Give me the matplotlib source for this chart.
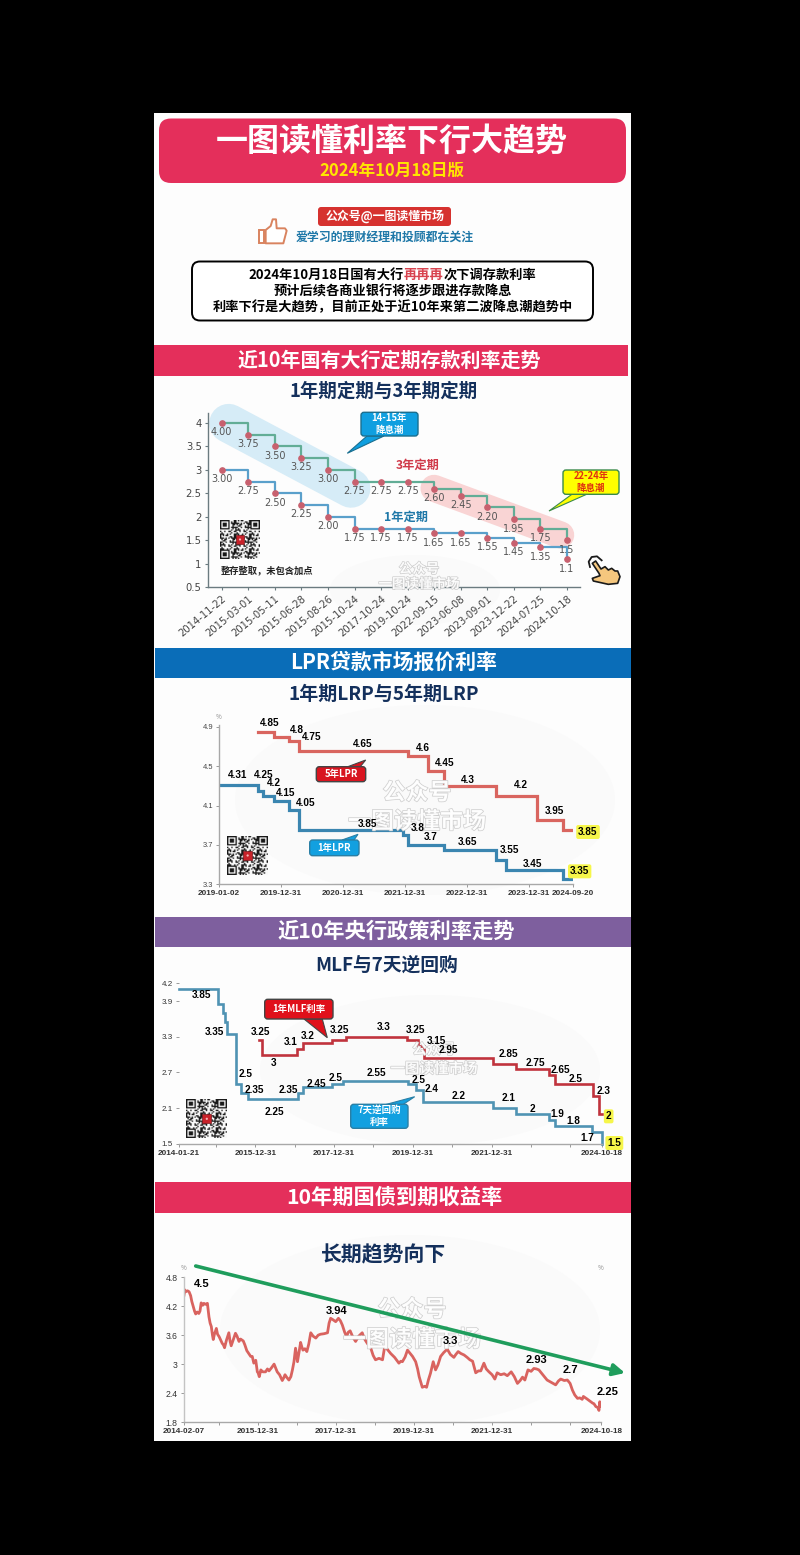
import numpy as np
import pandas as pd
import matplotlib
matplotlib.use("Agg")
import matplotlib.pyplot as plt
import matplotlib.dates as mdates
import matplotlib.patheffects as pe
from matplotlib.patches import FancyBboxPatch, Polygon, Ellipse, Rectangle
from matplotlib.lines import Line2D

CJK = ['Noto Sans CJK SC', 'DejaVu Sans']
NUM = ['Liberation Sans', 'DejaVu Sans']
plt.rcParams['font.family'] = CJK
plt.rcParams['axes.unicode_minus'] = False

# ---- deposit rates (categorical dates)
dep_dates = ['2014-11-22','2015-03-01','2015-05-11','2015-06-28','2015-08-26','2015-10-24','2017-10-24',
             '2019-10-24','2022-09-15','2023-06-08','2023-09-01','2023-12-22','2024-07-25','2024-10-18']
dep_3y = [4.00,3.75,3.50,3.25,3.00,2.75,2.75,2.75,2.60,2.45,2.20,1.95,1.75,1.50]
dep_1y = [3.00,2.75,2.50,2.25,2.00,1.75,1.75,1.75,1.65,1.65,1.55,1.45,1.35,1.10]
dep_3y_labels = ['4.00','3.75','3.50','3.25','3.00','2.75','2.75','2.75','2.60','2.45','2.20','1.95','1.75','1.5']
dep_1y_labels = ['3.00','2.75','2.50','2.25','2.00','1.75','1.75','1.75','1.65','1.65','1.55','1.45','1.35','1.1']
dep_yticks = [0.5,1,1.5,2,2.5,3,3.5,4]
dep_yticklabels = ['0.5','1','1.5','2','2.5','3','3.5','4']

# ---- LPR
lpr1_dates = ['2019-01-02','2019-08-20','2019-09-20','2019-11-20','2020-02-20','2020-04-20','2021-12-20',
              '2022-01-20','2022-08-22','2023-06-20','2023-08-21','2024-07-22','2024-09-20']
lpr1_vals = [4.31,4.25,4.20,4.15,4.05,3.85,3.80,3.70,3.65,3.55,3.45,3.35,3.35]
lpr5_dates = ['2019-08-20','2019-11-20','2020-02-20','2020-04-20','2022-01-20','2022-05-20','2022-08-22',
              '2023-06-20','2024-02-20','2024-07-22','2024-09-20']
lpr5_vals = [4.85,4.80,4.75,4.65,4.60,4.45,4.30,4.20,3.95,3.85,3.85]
lpr_xticks = ['2019-01-02','2019-12-31','2020-12-31','2021-12-31','2022-12-31','2023-12-31','2024-09-20']
lpr_yticks = [3.3,3.7,4.1,4.5,4.9]
lpr_texts = ['4.85','4.8','4.75','4.65','4.6','4.45','4.3','4.2','3.95',
             '4.31','4.25','4.2','4.15','4.05','3.85','3.8','3.7','3.65','3.55','3.45']
lpr_text_pos = [(348,218),(430,240),(472,261),(625,283),(808,293),(872,339),(942,391),(1100,406),(1200,483),
                (250,375),(330,376),(361,400),(395,430),(455,458),(640,521),(792,533),(830,560),(940,576),(1067,601),(1135,641)]

# ---- policy rates
rr_dates = ['2014-01-21','2015-01-15','2015-03-05','2015-03-25','2015-04-08','2015-07-01','2015-08-20','2015-10-23',
            '2017-02-03','2017-03-16','2017-12-14','2018-03-23','2019-11-18','2020-02-03','2020-03-30','2022-01-17',
            '2022-08-15','2023-06-13','2023-08-15','2024-07-22','2024-10-18','2024-10-18']
rr_vals = [4.10,3.85,3.70,3.55,3.35,2.50,2.35,2.25,2.35,2.45,2.50,2.55,2.50,2.40,2.20,2.10,2.00,1.90,1.80,1.70,1.50,1.50]
mlf_dates = ['2016-02-01','2016-03-01','2017-01-24','2017-03-16','2017-12-14','2018-04-17','2019-11-05','2020-02-17',
             '2020-04-15','2022-01-17','2022-08-15','2023-06-13','2023-08-15','2024-07-25','2024-09-25','2024-10-18']
mlf_vals = [3.25,3.00,3.10,3.20,3.25,3.30,3.25,3.15,2.95,2.85,2.75,2.65,2.50,2.30,2.00,2.00]
pol_xticks = ['2014-01-21','2015-12-31','2017-12-31','2019-12-31','2021-12-31','2024-10-18']
pol_minor = ['2014-12-31','2016-12-31','2018-12-31','2020-12-31','2022-12-31','2023-12-31']
pol_yticks = [1.5,2.1,2.7,3.3,3.9,4.2]
pol_texts = ['3.85','3.35','2.5','2.35','2.35','2.25','2.45','2.5','2.55','2.5','2.4','2.2','2.1','2','1.9','1.8','1.7',
             '3.25','3','3.1','3.2','3.25','3.3','3.25','3.15','2.95','2.85','2.75','2.65','2.5','2.3']
pol_text_pos = [(142,240),(180,350),(275,477),(300,525),(403,525),(360,590),(488,506),(544,490),(668,475),(795,495),
                (832,522),(915,542),(1065,548),(1134,581),(1210,596),(1258,619),(1301,670),
                (320,351),(360,445),(411,382),(460,362),(558,345),(690,335),(785,345),(848,379),(883,405),(1064,417),
                (1145,445),(1220,465),(1264,491),(1348,527)]

# ---- 10 year yield (decimal years)
yield_years = [
 2014.10,2014.12,2014.14,2014.19,2014.23,2014.27,2014.30,2014.34,2014.37,2014.40,
 2014.44,2014.48,2014.51,2014.54,2014.58,2014.61,2014.65,2014.70,2014.74,2014.77,
 2014.80,2014.83,2014.85,2014.88,2014.93,2014.96,2015.00,2015.04,2015.08,2015.11,
 2015.14,2015.19,2015.25,2015.28,2015.31,2015.36,2015.42,2015.46,2015.51,2015.55,
 2015.62,2015.66,2015.71,2015.76,2015.81,2015.85,2015.89,2015.94,2015.98,2016.00,
 2016.03,2016.07,2016.12,2016.19,2016.24,2016.28,2016.34,2016.41,2016.45,2016.49,
 2016.55,2016.62,2016.66,2016.69,2016.74,2016.79,2016.84,2016.88,2016.92,2016.96,
 2017.01,2017.05,2017.09,2017.12,2017.15,2017.20,2017.25,2017.30,2017.35,2017.41,
 2017.48,2017.54,2017.60,2017.69,2017.78,2017.82,2017.86,2017.92,2017.99,2018.06,
 2018.11,2018.16,2018.22,2018.27,2018.31,2018.36,2018.43,2018.50,2018.58,2018.67,
 2018.73,2018.80,2018.85,2018.89,2018.95,2019.01,2019.10,2019.19,2019.25,2019.32,
 2019.40,2019.50,2019.61,2019.66,2019.70,2019.77,2019.83,2019.90,2019.96,2020.04,
 2020.09,2020.13,2020.18,2020.21,2020.27,2020.32,2020.37,2020.42,2020.49,2020.55,
 2020.61,2020.68,2020.76,2020.85,2020.93,2021.02,2021.07,2021.13,2021.20,2021.28,
 2021.36,2021.43,2021.50,2021.58,2021.65,2021.71,2021.79,2021.85,2021.92,2022.00,
 2022.07,2022.13,2022.22,2022.31,2022.39,2022.49,2022.57,2022.65,2022.72,2022.78,
 2022.84,2022.92,2023.00,2023.07,2023.14,2023.20,2023.30,2023.41,2023.52,2023.63,
 2023.70,2023.76,2023.85,2023.93,2024.00,2024.06,2024.12,2024.19,2024.25,2024.31,
 2024.34,2024.43,2024.53,2024.58,2024.61,2024.66,2024.71,2024.74,2024.76,2024.78,2024.80]
yield_vals = [
 4.43,4.54,4.50,4.52,4.50,4.42,4.30,4.19,4.10,4.04,
 4.08,4.05,4.10,4.27,4.22,4.26,4.24,4.26,3.98,3.85,
 3.78,3.60,3.51,3.62,3.74,3.62,3.57,3.50,3.43,3.40,
 3.34,3.50,3.65,3.48,3.38,3.50,3.64,3.58,3.47,3.52,
 3.48,3.40,3.28,3.22,3.16,3.16,3.02,3.08,2.84,2.82,
 2.74,2.88,2.84,2.84,2.90,2.86,2.92,3.00,2.92,2.84,
 2.78,2.66,2.72,2.78,2.72,2.67,2.74,2.88,3.05,3.33,
 3.05,3.25,3.45,3.36,3.29,3.32,3.26,3.42,3.65,3.58,
 3.54,3.60,3.62,3.63,3.65,3.85,3.95,3.92,3.88,3.95,
 3.90,3.81,3.66,3.57,3.66,3.69,3.56,3.47,3.58,3.65,
 3.52,3.43,3.38,3.33,3.18,3.09,3.12,3.09,3.38,3.30,
 3.22,3.14,3.02,3.06,3.05,3.15,3.29,3.22,3.16,3.05,
 2.90,2.74,2.60,2.52,2.54,2.52,2.68,2.81,3.05,2.88,
 2.98,3.16,3.24,3.31,3.20,3.14,3.20,3.26,3.22,3.19,
 3.14,3.09,3.06,2.82,2.86,2.86,3.02,2.90,2.84,2.78,
 2.69,2.82,2.78,2.80,2.76,2.84,2.74,2.60,2.66,2.73,
 2.67,2.88,2.85,2.91,2.90,2.88,2.78,2.67,2.62,2.57,
 2.65,2.69,2.66,2.67,2.60,2.46,2.36,2.29,2.30,2.27,
 2.33,2.28,2.22,2.19,2.18,2.12,2.10,2.04,2.22,2.12,2.15]
yld_xticks = [2014.10,2016.0,2018.0,2020.0,2022.0,2024.80]
yld_xticklabels = ['2014-02-07','2015-12-31','2017-12-31','2019-12-31','2021-12-31','2024-10-18']
yld_minor = [2015.0,2017.0,2019.0,2021.0,2023.0,2024.0]
yld_yticks = [1.8,2.4,3.0,3.6,4.2,4.8]
yld_yticklabels = ['1.8','2.4','3','3.6','4.2','4.8']
yld_texts = ['4.5','3.94','3.3','2.93','2.7','2.25']
yld_text_pos = [(144,313),(549,392),(889,483),(1147,541),(1250,570),(1361,635)]

W, H = 800, 1555
RED, BLUE, PURPLE, NAVY = '#e42f5b', '#0a6db8', '#7e5f9e', '#14305c'
fig = plt.figure(figsize=(W/100, H/100), dpi=100, facecolor='black')

def overlay(z):
    a = fig.add_axes([0, 0, 1, 1], zorder=z)
    a.set_xlim(0, W); a.set_ylim(H, 0); a.axis('off'); a.patch.set_alpha(0)
    return a
bg = overlay(0)
top = overlay(5)

def chart_axes(l, t, r, b):
    a = fig.add_axes([l/W, 1-b/H, (r-l)/W, (b-t)/H], zorder=2)
    a.patch.set_alpha(0)
    for s in ['top', 'right']:
        a.spines[s].set_visible(False)
    return a

def T(x, y, s, size, color='black', weight='bold', family=CJK, ha='center', ax=top, **kw):
    return ax.text(x, y, s, fontsize=size, color=color, fontweight=weight, family=family,
                   ha=ha, va='center', **kw)

def rbox(ax, x0, y0, x1, y1, r, fc, ec='none', lw=0, z=1):
    p = FancyBboxPatch((x0, y0), x1-x0, y1-y0, boxstyle=f'round,pad=0,rounding_size={r}',
                       fc=fc, ec=ec, lw=lw, zorder=z)
    ax.add_patch(p)

def callout(x0, y0, x1, y1, tail, fc, ec, lines, tc, size):
    top.add_patch(Polygon(tail, closed=True, fc=fc, ec=ec, lw=0.8, zorder=3))
    rbox(top, x0, y0, x1, y1, 3, fc, ec, 1.0, 4)
    n = len(lines); h = (y1-y0)/n
    for i, s in enumerate(lines):
        t = T((x0+x1)/2, y0+h*(i+.5), s, size, tc, zorder=5)

def qr(x0, y0, x1, y1):
    n = 29
    m = np.zeros((n, n))
    for i in range(n):
        for j in range(n):
            m[i, j] = ((i*i*3 + j*j*5 + i*j*7 + i + 2*j) % 11) < 5
    for (a, b) in [(0, 0), (0, n-7), (n-7, 0)]:
        m[a:a+8 if a == 0 else a+7, b:b+8 if b == 0 else b+7] = 0
        m[a:a+7, b:b+7] = 1
        m[a+1:a+6, b+1:b+6] = 0
        m[a+2:a+5, b+2:b+5] = 1
    img = np.ones((n, n, 3))*(1-m[..., None])*0.98 + m[..., None]*0.1
    top.imshow(img, extent=(x0, x1, y1, y0), aspect='auto', interpolation='bilinear', zorder=3)
    w = (x1-x0)*0.22
    cx, cy = (x0+x1)/2, (y0+y1)/2
    top.add_patch(Rectangle((cx-w/2, cy-w/2), w, w, fc='#c8222a', ec='#7a1a1f', lw=0.5, zorder=4))
    top.add_patch(Ellipse((cx, cy), w*.25, w*.25, fc='#f5b5b5', ec='none', zorder=5))
    top.set_xlim(0, W); top.set_ylim(H, 0)

def watermark(cx, y1, y2, px):
    size = px*0.72
    for y, s in [(y1, '公众号'), (y2, '一图读懂市场')]:
        t = T(cx, y, s, size, 'white', zorder=2.5, ax=top, alpha=0.9)
        t.set_path_effects([pe.withStroke(linewidth=1.0, foreground='#c8c8c8')])

# ---------- panel
panel = Rectangle((154, 113), 477, 1328, fc='#fdfdfd', ec='none', zorder=0)
bg.add_patch(panel)
for (cx, cy, w, h) in [(425, 800, 380, 190), (430, 1070, 340, 150), (410, 1330, 380, 190), (415, 590, 170, 70)]:
    e = Ellipse((cx, cy), w, h, fc='#fafafa', ec='none', zorder=0.3)
    bg.add_patch(e)
    e.set_clip_path(panel)

# ---------- header
rbox(bg, 159, 118.5, 626, 183, 12, RED)
T(392, 142, '一图读懂利率下行大趋势', 23, 'white', ax=bg)
T(392, 170.5, '2024年10月18日版', 12, '#ffe600', ax=bg)
rbox(bg, 318, 207, 451, 226, 3, '#d6322f')
T(384.5, 216.5, '公众号@一图读懂市场', 8.6, 'white', ax=bg)
T(384.7, 237.5, '爱学习的理财经理和投顾都在关注', 8.6, '#1f78a8', ax=bg)
# thumb icon
thumb_fist = [(47,60),(62,48),(68,28),(78,28),(80,55),(105,55),(110,62),(100,100),(47,100)]
bg.add_patch(Polygon([(250+x/3, 210+y/3) for x, y in thumb_fist], closed=True, fc='white', ec='#d9835f', lw=1.4, joinstyle='round'))
bg.add_patch(Rectangle((250+27/3, 210+60/3), 15/3, 40/3, fc='white', ec='#d9835f', lw=1.4))

# notice box
rbox(bg, 192, 261.5, 593, 320.5, 8, 'white', 'black', 1.4)
fig.canvas.draw()
rend = fig.canvas.get_renderer()
segs = [('2024年10月18日国有大行', 'black'), ('再再再', '#d8434f'), ('次下调存款利率', 'black')]
texts = [T(0, 274.5, s, 9.5, c, ha='left', ax=bg) for s, c in segs]
widths = [t.get_window_extent(rend).width for t in texts]
x = 392.5 - sum(widths)/2
for t, w in zip(texts, widths):
    t.set_x(x); x += w
T(392.5, 291.5, '预计后续各商业银行将逐步跟进存款降息', 9.5, ax=bg)
T(392.5, 307.5, '利率下行是大趋势，目前正处于近10年来第二波降息潮趋势中', 9.5, ax=bg)

# ---------- bands
for (x0, x1, y0, y1, c, s, cx, fs) in [
    (154, 628, 345, 376, RED, '近10年国有大行定期存款利率走势', 389.7, 14.4),
    (155, 631, 648, 678, BLUE, 'LPR贷款市场报价利率', 393.3, 15),
    (155, 631, 917, 947, PURPLE, '近10年央行政策利率走势', 396.3, 15.3),
    (155, 631, 1182, 1213, RED, '10年期国债到期收益率', 394, 15.3)]:
    bg.add_patch(Rectangle((x0, y0), x1-x0, y1-y0, fc=c, ec='none', zorder=1))
    T(cx, (y0+y1)/2-0.3, s, fs, 'white', ax=bg, zorder=2)
for (cx, cy, s, fs) in [(384, 391, '1年期定期与3年期定期', 13.3), (384, 694, '1年期LRP与5年期LRP', 13.7),
                        (386.3, 965, 'MLF与7天逆回购', 13.5), (384, 1255, '长期趋势向下', 15)]:
    T(cx, cy, s, fs, NAVY, ax=bg)

# ---------- chart 1
bg.add_line(Line2D([228.7, 351], [423.3, 488.3], color='#d6ecf7', lw=28, solid_capstyle='round', zorder=1))
bg.add_line(Line2D([434, 560.7], [488.3, 535], color='#f9d4d4', lw=19.5, solid_capstyle='round', zorder=1))
ax1 = chart_axes(208, 412.7, 580, 587.3)
ax1.set_xlim(-0.516, 13.49); ax1.set_ylim(0.5, 4.215)
xs = np.arange(len(dep_dates))
ax1.step(xs, dep_3y, where='post', color='#62ad96', lw=1.6, zorder=2)
ax1.step(xs, dep_1y, where='post', color='#5aa0cb', lw=1.6, zorder=2)
ax1.plot(xs, dep_3y, ls='none', marker='o', ms=3.8, color='#c8606e', zorder=3)
ax1.plot(xs, dep_1y, ls='none', marker='o', ms=3.8, color='#c8606e', zorder=3)
for vals, labs in [(dep_3y, dep_3y_labels), (dep_1y, dep_1y_labels)]:
    for i, (v, s) in enumerate(zip(vals, labs)):
        ax1.annotate(s, (i, v), xytext=(0, -6.8), textcoords='offset points', ha='center', va='center',
                     fontsize=7, color='#555555', family='DejaVu Sans')
ax1.set_xticks(xs)
ax1.set_xticklabels(dep_dates, rotation=40, ha='right', rotation_mode='anchor', fontsize=7.2, color='#444444', family='DejaVu Sans')
ax1.set_yticks(dep_yticks)
ax1.set_yticklabels(dep_yticklabels, fontsize=7.2, color='#444444', family='DejaVu Sans')
ax1.tick_params(length=2.5, width=0.8, color='#6b7b80', pad=2)
for s in ['left', 'bottom']:
    ax1.spines[s].set_color('#6b7b80'); ax1.spines[s].set_linewidth(1.0)
T(417.3, 465.3, '3年定期', 8.8, '#d03a4a')
T(406.3, 517.7, '1年定期', 8.8, '#1f78a8')
callout(361, 412.3, 418, 436, [(367, 436), (384, 436), (347.3, 453.3)], '#0f9fe0', '#1b6f8f', ['14-15年', '降息潮'], 'white', 6.8)
callout(563, 470, 619, 494.3, [(572.3, 494), (587.3, 494), (549, 511)], '#ffff00', '#3a8a4a', ['22-24年', '降息潮'], '#e03010', 6.8)
qr(220, 520, 260, 559)
T(220.7, 570.7, '整存整取，未包含加点', 6.7, '#222222', ha='left')
watermark(419, 569, 584, 13.5)
# hand icon
hand = [(52,55),(62,48),(78,72),(90,65),(100,75),(110,70),(120,78),(128,78),(135,95),(128,115),(100,118),(55,108),(52,100),(75,92),(72,85)]
top.add_patch(Polygon([(575+x/3, 545+y/3) for x, y in hand], closed=True, fc='#f5c77e', ec='#1a1a1a', lw=1.2, joinstyle='round', zorder=4))
ring = [(45,66),(41,50),(50,36),(66,34),(80,46)]
top.add_line(Line2D([575+x/3 for x, y in ring], [545+y/3 for x, y in ring], color='#1a1a1a', lw=1.3, zorder=4))

# ---------- chart 2
def dnum(seq):
    return mdates.date2num(pd.to_datetime(seq))
ax2 = chart_axes(219, 725, 573.3, 884.3)
ax2.set_xlim(*dnum(['2019-01-02', '2024-09-20']))
ax2.set_ylim(3.3, 3.3+159.3/98.5)
ax2.step(dnum(lpr5_dates), lpr5_vals, where='post', color='#d9655f', lw=2.3, zorder=2, solid_joinstyle='miter')
ax2.step(dnum(lpr1_dates), lpr1_vals, where='post', color='#3a85b0', lw=2.3, zorder=2, solid_joinstyle='miter')
ax2.set_xticks(dnum(lpr_xticks))
ax2.set_xticklabels(lpr_xticks, fontsize=5.9, fontweight='bold', family=NUM, color='#333333')
ax2.set_yticks(lpr_yticks)
ax2.set_yticklabels([str(v) for v in lpr_yticks], fontsize=5.4, family=NUM, color='#444444')
ax2.tick_params(length=2, width=0.7, color='#999999', pad=2)
for s in ['left', 'bottom']:
    ax2.spines[s].set_color('#a8a8a8'); ax2.spines[s].set_linewidth(1.0)
T(219, 716.7, '%', 4.5, '#888888', weight='normal')
for s, (zx, zy) in zip(lpr_texts, lpr_text_pos):
    T(154+zx/3, 650+zy/3, s, 7.2, 'black', family=NUM)
for s, (zx, zy) in [('3.85', (1302, 546)), ('3.35', (1277, 664))]:
    T(154+zx/3, 650+zy/3, s, 7.2, 'black', family=NUM,
      bbox=dict(boxstyle='round,pad=0.2', fc='#f6f64a', ec='none'))
callout(316.3, 766.7, 365.7, 781.7, [(347, 767), (360, 767), (365.7, 760)], '#d8141f', '#444444', ['5年LPR'], 'white', 6.8)
callout(309.7, 840, 359, 855.7, [(342, 840), (354, 840), (358, 834.3)], '#12a0e0', '#2a7fa5', ['1年LPR'], 'white', 6.8)
qr(227.3, 836, 268, 875)
watermark(417, 793, 822, 23)

# ---------- chart 3
ax3 = chart_axes(179, 983.3, 601.7, 1143.7)
ax3.set_xlim(*dnum(['2014-01-21', '2024-10-18']))
ax3.set_ylim(1.5, 4.2)
ax3.step(dnum(mlf_dates), mlf_vals, where='post', color='#c0333d', lw=1.9, zorder=2, solid_joinstyle='miter', clip_on=False)
ax3.step(dnum(rr_dates), rr_vals, where='post', color='#4f93b3', lw=1.9, zorder=2, solid_joinstyle='miter', clip_on=False)
ax3.set_xticks(dnum(pol_xticks))
ax3.set_xticklabels(pol_xticks, fontsize=5.9, fontweight='bold', family=NUM, color='#333333')
ax3.set_xticks(dnum(pol_minor), minor=True)
ax3.set_yticks(pol_yticks)
ax3.set_yticklabels([str(v) for v in pol_yticks], fontsize=5.8, family=NUM, color='#333333')
ax3.tick_params(axis='both', which='both', length=2.5, width=0.7, color='#999999', pad=2)
ax3.spines['left'].set_visible(False)
ax3.spines['bottom'].set_color('#a8a8a8'); ax3.spines['bottom'].set_linewidth(1.0)
for s, (zx, zy) in zip(pol_texts, pol_text_pos):
    T(154+zx/3, 915+zy/3, s, 7.2, 'black', family=NUM)
for s, (zx, zy) in [('1.5', (1381, 684)), ('2', (1364, 604))]:
    T(154+zx/3, 915+zy/3, s, 7.2, 'black', family=NUM,
      bbox=dict(boxstyle='round,pad=0.2', fc='#f6f64a', ec='none'))
callout(264.7, 999.3, 333, 1019, [(304, 1019), (322.3, 1019), (327.3, 1037.7)], '#e0101a', '#444444', ['1年MLF利率'], 'white', 6.8)
callout(350.7, 1104.3, 408, 1128.3, [(384, 1105), (402.3, 1105), (414.7, 1096.7)], '#12a0e0', '#2a7fa5', ['7天逆回购', '利率'], 'white', 6.8)
qr(186.3, 1099.3, 227.3, 1138.3)
watermark(434, 1050, 1069, 14.5)

# ---------- chart 4
ax4 = chart_axes(184, 1277.3, 601.3, 1422)
ax4.set_xlim(2014.10, 2024.80); ax4.set_ylim(1.8, 4.8)
ax4.plot(yield_years, yield_vals, color='#d9635f', lw=2.0, zorder=2, solid_joinstyle='round')
ax4.set_xticks(yld_xticks)
ax4.set_xticklabels(yld_xticklabels, fontsize=5.9, fontweight='bold', family=NUM, color='#333333')
ax4.set_xticks(yld_minor, minor=True)
ax4.set_yticks(yld_yticks)
ax4.set_yticklabels(yld_yticklabels, fontsize=6.2, family=NUM, color='#333333')
ax4.tick_params(axis='both', which='both', length=2.5, width=0.7, color='#999999', pad=2)
ax4.spines['left'].set_color('#c4c4c4'); ax4.spines['left'].set_linewidth(1.0)
ax4.spines['bottom'].set_color('#a8a8a8'); ax4.spines['bottom'].set_linewidth(1.0)
T(184, 1268, '%', 4.5, '#888888', weight='normal')
T(601, 1268, '%', 4.5, '#888888', weight='normal')
for s, (zx, zy) in zip(yld_texts, yld_text_pos):
    T(154+zx/3, 1180+zy/3, s, 8, 'black', family=NUM)
top.annotate('', xy=(625, 1373), xytext=(195.7, 1266), zorder=4,
             arrowprops=dict(arrowstyle='-|>,head_width=0.35,head_length=0.7', color='#1f9d5c', lw=2.6, shrinkA=0, shrinkB=0))
watermark(412, 1310, 1340, 23)

fig.savefig('out.png', dpi=100, facecolor='black')
